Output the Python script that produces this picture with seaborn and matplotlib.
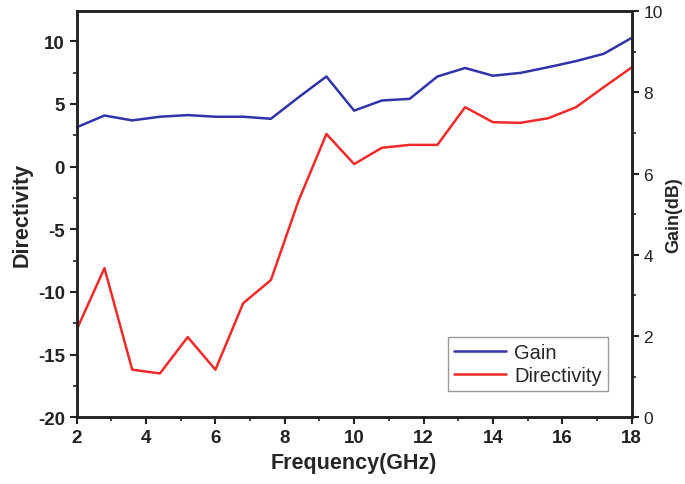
import matplotlib
matplotlib.use("Agg")
import matplotlib.pyplot as plt
import seaborn as sns
import pandas as pd
from matplotlib.ticker import MultipleLocator

# frequency points (GHz)
freq = [2.0, 2.8, 3.6, 4.4, 5.2, 6.0, 6.8, 7.6, 8.4, 9.2, 10.0,
        10.8, 11.6, 12.4, 13.2, 14.0, 14.8, 15.6, 16.4, 17.2, 18.0]
# directivity, left axis
directivity = [-13.0, -8.1, -16.2, -16.5, -13.6, -16.2, -10.9, -9.05, -2.7, 2.6, 0.2,
               1.5, 1.73, 1.73, 4.74, 3.54, 3.49, 3.86, 4.74, 6.34, 7.9]
# gain in dB, right axis
gain = [7.14, 7.43, 7.31, 7.40, 7.44, 7.40, 7.40, 7.35, 7.88, 8.39, 7.55,
        7.80, 7.84, 8.39, 8.60, 8.41, 8.48, 8.62, 8.77, 8.95, 9.34]

df = pd.DataFrame({"freq": freq, "directivity": directivity, "gain": gain})

sns.set_style("ticks")
plt.rcParams['font.family'] = ['Liberation Sans', 'DejaVu Sans']
plt.rcParams['axes.unicode_minus'] = False

fig, ax = plt.subplots(figsize=(6.85, 4.85), dpi=100)
fig.subplots_adjust(left=0.112, right=0.922, top=0.975, bottom=0.1375)
ax2 = ax.twinx()

sns.lineplot(data=df, x="freq", y="gain", ax=ax2, color="#3034a8", linewidth=1.8, label="Gain", legend=False)
sns.lineplot(data=df, x="freq", y="directivity", ax=ax, color="#f02a2a", linewidth=1.8, label="Directivity", legend=False)

ax.set_xlim(2, 18)
ax.set_ylim(-20, 12.4)
ax2.set_ylim(0, 10)

ax.xaxis.set_major_locator(MultipleLocator(2))
ax.xaxis.set_minor_locator(MultipleLocator(1))
ax.yaxis.set_major_locator(MultipleLocator(5))
ax.yaxis.set_minor_locator(MultipleLocator(2.5))
ax2.yaxis.set_major_locator(MultipleLocator(2))
ax2.yaxis.set_minor_locator(MultipleLocator(1))

for a in (ax, ax2):
    for s in a.spines.values():
        s.set_linewidth(1.8)
        s.set_color("#222222")
    a.tick_params(which="major", length=5, width=1.5, colors="#222222")
    a.tick_params(which="minor", length=3, width=1.2, colors="#222222")

ax.tick_params(axis="both", labelsize=13.5)
for lab in ax.get_xticklabels() + ax.get_yticklabels():
    lab.set_fontweight("bold")
ax2.tick_params(axis="y", labelsize=12.5)

ax.set_xlabel("Frequency(GHz)", fontsize=15.5, fontweight="bold", labelpad=4)
ax.set_ylabel("Directivity", fontsize=15.5, fontweight="bold", labelpad=4)
ax2.set_ylabel("Gain(dB)", fontsize=13, fontweight="bold", labelpad=2)

h1, l1 = ax2.get_legend_handles_labels()
h2, l2 = ax.get_legend_handles_labels()
leg = ax.legend(h1 + h2, l1 + l2, loc="lower right", bbox_to_anchor=(0.965, 0.055),
                fontsize=14.5, fancybox=False, framealpha=1, edgecolor="#999999",
                handlelength=2.6, borderpad=0.3, labelspacing=0.2, handletextpad=0.4,
                borderaxespad=0.2)
leg.get_frame().set_linewidth(1.0)

fig.savefig("out.png", dpi=100)
